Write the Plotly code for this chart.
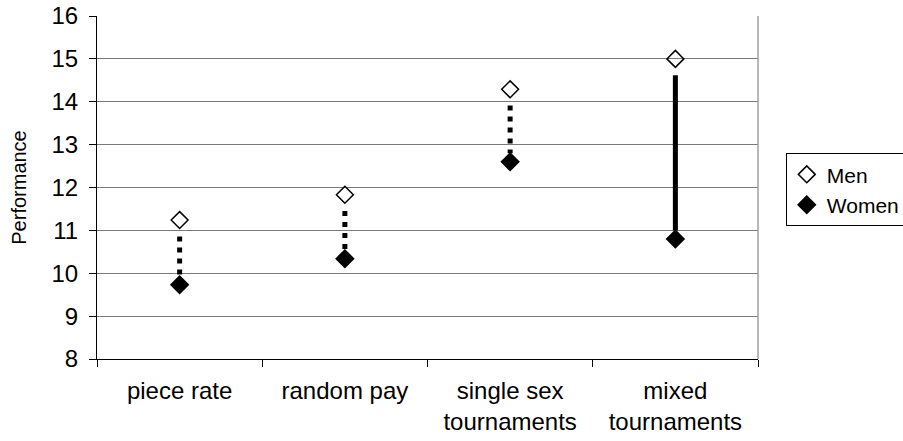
import plotly.graph_objects as go

# Mean performance by compensation scheme
categories = ["piece rate", "random pay", "single sex<br>tournaments", "mixed<br>tournaments"]
men = [11.24, 11.83, 14.29, 15.0]
women = [9.73, 10.34, 12.6, 10.8]
connector_dash = ["5px,6px", "5px,6px", "5px,6px", "solid"]

y_ticks = [8, 9, 10, 11, 12, 13, 14, 15, 16]

FONT = "Liberation Sans, Arial, sans-serif"
GAP_TOP = 0.38     # space left under the men's marker
GAP_BOTTOM = 0.2   # space left above the women's marker

fig = go.Figure()

# vertical connectors between the two groups
for cat, m, w, dash in zip(categories, men, women, connector_dash):
    fig.add_trace(go.Scatter(
        x=[cat, cat], y=[m - GAP_TOP, w + GAP_BOTTOM],
        mode="lines", line=dict(color="black", width=5, dash=dash),
        showlegend=False, hoverinfo="skip",
    ))

fig.add_trace(go.Scatter(
    x=categories, y=men, mode="markers", name="Men",
    marker=dict(symbol="diamond-open", size=13, color="black", line=dict(width=1.5, color="black")),
))
fig.add_trace(go.Scatter(
    x=categories, y=women, mode="markers", name="Women",
    marker=dict(symbol="diamond", size=15, color="black"),
))

fig.update_layout(
    width=903, height=441,
    margin=dict(l=97, r=145, t=16, b=82, autoexpand=False),
    paper_bgcolor="white", plot_bgcolor="white",
    font=dict(family=FONT, size=23, color="black"),
    showlegend=True,
    legend=dict(
        x=1.042, y=0.60, xanchor="left", yanchor="top",
        bordercolor="black", borderwidth=1, bgcolor="white",
        font=dict(size=21), itemwidth=30, tracegroupgap=0,
    ),
    xaxis=dict(
        type="category", categoryorder="array", categoryarray=categories,
        range=[-0.5, 3.5], showgrid=False, showline=True, linecolor="black", linewidth=1,
        ticks="outside", tickson="boundaries", ticklen=7, tickcolor="black",
        tickfont=dict(size=24), ticklabelstandoff=10, zeroline=False, automargin=False,
    ),
    yaxis=dict(
        range=[8, 16], tickvals=y_ticks, showgrid=True, gridcolor="#7a7a7a", gridwidth=1.3,
        showline=True, linecolor="black", linewidth=1,
        ticks="outside", ticklen=7, tickcolor="black", tickfont=dict(size=24),
        ticklabelstandoff=6, automargin=False,
        title=dict(text="Performance", font=dict(size=20), standoff=19), zeroline=False,
    ),
    shapes=[dict(type="line", xref="paper", yref="paper", x0=1, x1=1, y0=0, y1=1,
                 line=dict(color="#a0a0a0", width=1.5))],
)

fig.write_html("out.html")
